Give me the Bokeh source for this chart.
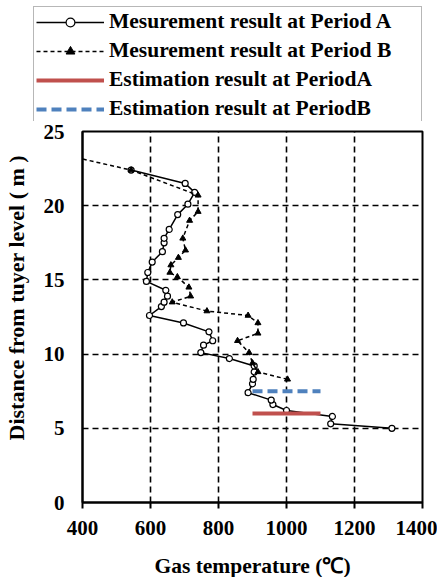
from bokeh.plotting import figure
from bokeh.models import Range1d, Legend, LegendItem, FixedTicker
from bokeh.layouts import column, row
from bokeh.embed import file_html
from bokeh.resources import INLINE

# Period A measurement (solid, open circles)
a_temp = [1310, 1130, 1135, 1000, 960, 955, 887, 900, 902, 905, 905, 832, 748, 756, 783, 772,
          697, 597, 632, 640, 650, 645, 588, 592, 605, 635, 640, 640, 655, 680, 710, 730, 702, 543]
a_dist = [5.0, 5.3, 5.8, 6.2, 6.6, 6.9, 7.4, 8.0, 8.3, 8.8, 9.2, 9.7, 10.1, 10.6, 10.9, 11.5,
          12.1, 12.6, 13.2, 13.5, 13.9, 14.3, 14.9, 15.5, 16.2, 16.9, 17.5, 17.8, 18.4, 19.4, 20.1, 20.9, 21.5, 22.4]

# Period B measurement (dashed, triangles)
b_temp = [1003, 916, 900, 890, 856, 916, 916, 887, 766, 664, 718, 713, 679, 657, 660, 682,
          703, 695, 715, 740, 740, 543, 380]
b_dist = [8.3, 8.8, 9.4, 10.1, 10.9, 11.4, 12.1, 12.6, 12.9, 13.5, 13.9, 14.5, 15.2, 15.5, 16.0, 16.5,
          17.0, 17.8, 19.0, 19.6, 20.7, 22.4, 23.25]

# Estimations
est_a_temp = [900, 1100]
est_a_dist = [6.0, 6.0]
est_b_temp = [900, 1100]
est_b_dist = [7.5, 7.5]

x_ticks = [400, 600, 800, 1000, 1200, 1400]
y_ticks = [0, 5, 10, 15, 20, 25]

labels = ["Mesurement result at Period A", "Mesurement result at Period B",
          "Estimation result at PeriodA", "Estimation result at PeriodB"]

FONT = "Liberation Serif"
RED = "#C0504D"
BLUE = "#4F81BD"

style_a_line = dict(line_color="black", line_width=1.5)
style_a_mark = dict(marker="circle", size=6, fill_color="white", line_color="black", line_width=1.2)
style_b_line = dict(line_color="black", line_width=1.5, line_dash="4 3")
style_b_mark = dict(marker="triangle", size=6, fill_color="black", line_color="black")
style_ea = dict(line_color=RED, line_width=4)
style_eb = dict(line_color=BLUE, line_width=4, line_dash="10 5")

# ---------- main chart ----------
p = figure(width=437, height=461, output_backend="svg", toolbar_location=None,
           x_range=Range1d(400, 1400), y_range=Range1d(0, 25),
           min_border_left=78, min_border_top=10, min_border_right=15, min_border_bottom=80)

p.outline_line_color = "black"
p.outline_line_width = 2

for ax in (p.xaxis[0], p.yaxis[0]):
    ax.axis_line_color = "black"
    ax.axis_line_width = 2
    ax.major_label_text_font = FONT
    ax.major_label_text_font_style = "bold"
    ax.major_label_text_font_size = "21px"
    ax.major_label_text_color = "black"
    ax.axis_label_text_font = FONT
    ax.axis_label_text_font_style = "bold"
    ax.axis_label_text_color = "black"
    ax.minor_tick_line_color = None

p.xaxis[0].axis_label_text_font_size = "21.5px"
p.yaxis[0].axis_label_text_font_size = "22px"
p.xaxis[0].ticker = FixedTicker(ticks=x_ticks)
p.yaxis[0].ticker = FixedTicker(ticks=y_ticks)
p.xaxis[0].major_tick_out = 6
p.xaxis[0].major_tick_in = 0
p.xaxis[0].major_tick_line_width = 2
p.xaxis[0].major_label_standoff = 12
p.yaxis[0].major_tick_out = 0
p.yaxis[0].major_tick_in = 0
p.yaxis[0].major_label_standoff = 18
p.xaxis[0].axis_label = "Gas temperature (℃)"
p.yaxis[0].axis_label = "\u00a0" * 7 + "Distance from tuyer level ( m )"
p.xaxis[0].axis_label_standoff = 16
p.yaxis[0].axis_label_standoff = 12

for g in (p.xgrid[0], p.ygrid[0]):
    g.grid_line_color = "black"
    g.grid_line_dash = "6 4"
    g.grid_line_width = 1.6
p.xgrid[0].ticker = FixedTicker(ticks=x_ticks)
p.ygrid[0].ticker = FixedTicker(ticks=y_ticks)

p.line(a_temp, a_dist, **style_a_line)
p.scatter(a_temp, a_dist, **style_a_mark)
p.line(b_temp, b_dist, **style_b_line)
p.scatter(b_temp, b_dist, **style_b_mark)
p.line(est_a_temp, est_a_dist, **style_ea)
p.line(est_b_temp, est_b_dist, **style_eb)

# ---------- legend panel ----------
pl = figure(width=437, height=121, output_backend="svg", toolbar_location=None,
            x_range=Range1d(0, 1), y_range=Range1d(0, 1),
            x_axis_type=None, y_axis_type=None,
            min_border_left=33, min_border_right=0, min_border_top=6, min_border_bottom=0)
pl.outline_line_color = None
off = [-10, -9]
la = pl.line(off, off, **style_a_line)
sa = pl.scatter(off, off, **style_a_mark)
lb = pl.line(off, off, **style_b_line)
sb = pl.scatter(off, off, **style_b_mark)
ea = pl.line(off, off, **style_ea)
eb = pl.line(off, off, **style_eb)

legend = Legend(items=[
    LegendItem(label=labels[0], renderers=[la, sa]),
    LegendItem(label=labels[1], renderers=[lb, sb]),
    LegendItem(label=labels[2], renderers=[ea]),
    LegendItem(label=labels[3], renderers=[eb]),
], location="top_left")
legend.label_text_font = FONT
legend.label_text_font_style = "bold"
legend.label_text_font_size = "21.5px"
legend.label_text_color = "black"
legend.glyph_width = 68
legend.glyph_height = 22
legend.label_height = 22
legend.label_width = 310
legend.label_standoff = 5
legend.spacing = 4
legend.padding = 2
legend.margin = 0
legend.border_line_color = "#707070"
legend.border_line_width = 1.5
legend.background_fill_alpha = 1
pl.add_layout(legend, "center")

layout = column(row(pl), row(p), spacing=0)
open("out.html", "w").write(file_html(layout, INLINE))
